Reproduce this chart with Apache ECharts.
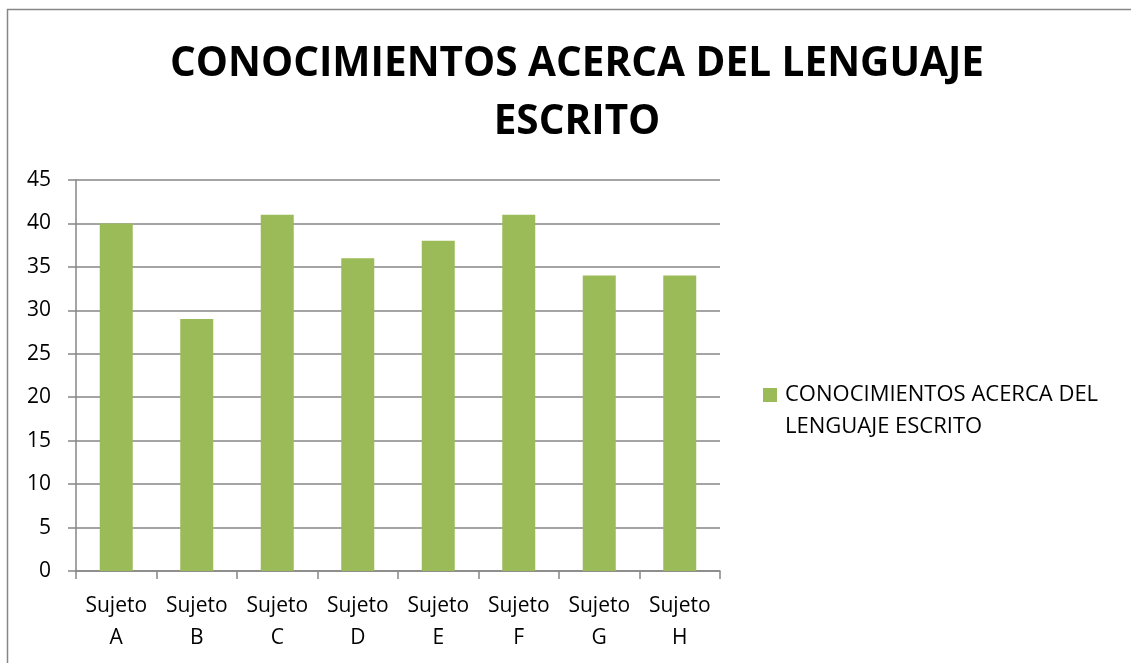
<!DOCTYPE html>
<html>
<head>
<meta charset="utf-8">
<script src="https://cdn.jsdelivr.net/npm/echarts@6/dist/echarts.min.js"></script>
<style>
  html, body { margin: 0; padding: 0; background: #fff; }
  #chart { width: 1131px; height: 663px; }
</style>
</head>
<body>
<div id="chart"></div>
<script>
// datos del gráfico
var categorias = ["Sujeto\nA", "Sujeto\nB", "Sujeto\nC", "Sujeto\nD", "Sujeto\nE", "Sujeto\nF", "Sujeto\nG", "Sujeto\nH"];
var valores = [40, 29, 41, 36, 38, 41, 34, 34];
var nombreSerie = "CONOCIMIENTOS ACERCA DEL LENGUAJE ESCRITO";
var titulo = "CONOCIMIENTOS ACERCA DEL LENGUAJE\nESCRITO";

var chart = echarts.init(document.getElementById("chart"));
var fuente = "'Open Sans', 'Liberation Sans', sans-serif";

var option = {
  animation: false,
  textStyle: { fontFamily: fuente },
  title: {
    text: titulo,
    left: 572,
    textAlign: "center",
    top: 30,
    textStyle: {
      fontFamily: fuente,
      fontSize: 40.5,
      fontWeight: "bold",
      color: "#000",
      lineHeight: 58
    }
  },
  // marco del gráfico
  graphic: [
    {
      type: "rect",
      shape: { x: 7.5, y: 9.5, width: 1130, height: 660 },
      style: { fill: "none", stroke: "#868686", lineWidth: 1.5 },
      silent: true
    },
    {
      type: "group",
      left: 785,
      top: 379,
      children: [
        {
          type: "text",
          style: {
            text: "CONOCIMIENTOS ACERCA DEL\nLENGUAJE ESCRITO",
            font: "22px " + fuente,
            fill: "#000",
            lineHeight: 32
          }
        }
      ]
    },
    {
      type: "rect",
      shape: { x: 763, y: 388, width: 14, height: 14 },
      style: { fill: "#9BBB59" }
    }
  ],
  legend: { show: false },
  grid: {
    left: 76,
    right: 411,
    top: 180,
    bottom: 92
  },
  xAxis: {
    type: "category",
    data: categorias,
    axisLine: { lineStyle: { color: "#868686", width: 1.5 } },
    axisTick: { show: true, alignWithLabel: false, length: 8, lineStyle: { color: "#868686", width: 1.5 } },
    axisLabel: {
      color: "#000",
      fontSize: 21,
      fontFamily: fuente,
      lineHeight: 32,
      margin: 19,
      interval: 0
    }
  },
  yAxis: {
    type: "value",
    min: 0,
    max: 45,
    interval: 5,
    axisLine: { show: true, lineStyle: { color: "#868686", width: 1.5 } },
    axisTick: { show: true, length: 8, lineStyle: { color: "#868686", width: 1.5 } },
    splitLine: { lineStyle: { color: "#868686", width: 1.5 } },
    axisLabel: {
      color: "#000",
      fontSize: 21,
      fontFamily: fuente,
      margin: 25
    }
  },
  series: [
    {
      name: nombreSerie,
      type: "bar",
      data: valores,
      barWidth: "41%",
      itemStyle: { color: "#9BBB59" }
    }
  ]
};

chart.setOption(option);
</script>
</body>
</html>
